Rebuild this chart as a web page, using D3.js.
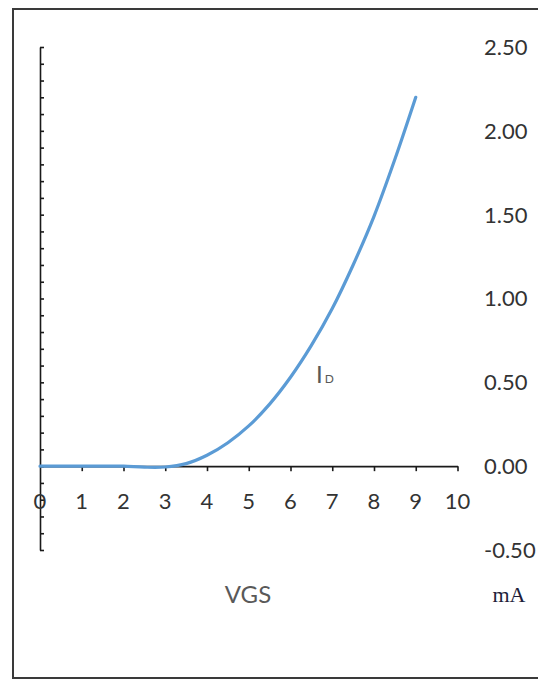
<!DOCTYPE html>
<html><head><meta charset="utf-8">
<script src="https://cdn.jsdelivr.net/npm/d3@7"></script>
<style>html,body{margin:0;padding:0;background:#fff;}svg{display:block;}</style>
</head><body>
<svg id="c" width="538" height="681"></svg>
<script>
const vgs = [0, 0.5, 1, 1.5, 2, 2.5, 3, 3.5, 4, 4.5, 5, 5.5, 6, 6.5, 7, 7.5, 8, 8.5, 9];
const idMA = [0, 0, 0, 0, 0, -0.006, -0.005, 0.015, 0.065, 0.14, 0.24, 0.37, 0.53, 0.72, 0.94, 1.2, 1.49, 1.83, 2.2];
const xTicks = [0, 1, 2, 3, 4, 5, 6, 7, 8, 9, 10];
const yLabelTicks = [-0.5, 0, 0.5, 1, 1.5, 2, 2.5];
const yMinorTicks = d3.range(-5, 26).map(i => i / 10);
const xTitle = "VGS";
const yUnit = "mA";
const seriesName = ["I", "D"];

const svg = d3.select("#c");
const x = d3.scaleLinear().domain([0, 10]).range([40, 457.5]);
const y = d3.scaleLinear().domain([-0.5, 2.5]).range([550, 47]);

// outer border
svg.append("rect").attr("x", 13).attr("y", 9).attr("width", 540).attr("height", 669)
  .attr("fill", "none").attr("stroke", "#3a3a3a").attr("stroke-width", 2);

// Y axis (ticks pointing right, no labels)
const yAx = svg.append("g").attr("transform", "translate(40,0)")
  .call(d3.axisRight(y).tickValues(yMinorTicks).tickSize(4).tickSizeOuter(0).tickFormat(""));
yAx.select(".domain").attr("stroke", "#1a1a1a").attr("stroke-width", 1.6);
yAx.selectAll(".tick line").attr("stroke", "#1a1a1a").attr("stroke-width", 1.6);

// Y labels at right side
const fmt = d3.format(".2f");
svg.append("g").selectAll("text").data(yLabelTicks).join("text")
  .attr("x", 484).attr("y", d => y(d)).attr("dy", "0.36em")
  .attr("font-family", "Lato, 'Open Sans', sans-serif").attr("font-size", 22)
  .attr("fill", "#333").text(d => fmt(d).replace("\u2212", "-"));

// X axis at y=0
const xAx = svg.append("g").attr("transform", `translate(0,${y(0)})`)
  .call(d3.axisBottom(x).tickValues(xTicks.filter(d => d > 0)).tickSize(5).tickSizeOuter(0).tickFormat(""));
xAx.select(".domain").attr("stroke", "#1a1a1a").attr("stroke-width", 1.6);
xAx.selectAll(".tick line").attr("stroke", "#1a1a1a").attr("stroke-width", 1.6);

svg.append("g").selectAll("text").data(xTicks).join("text")
  .attr("x", d => x(d)).attr("y", 509).attr("text-anchor", "middle")
  .attr("font-family", "Lato, 'Open Sans', sans-serif").attr("font-size", 22)
  .attr("fill", "#333").text(d => d);

// curve
const line = d3.line().x((d, i) => x(vgs[i])).y(d => y(d)).curve(d3.curveCatmullRom);
svg.append("path").datum(idMA).attr("d", line)
  .attr("fill", "none").attr("stroke", "#5b9bd5").attr("stroke-width", 3.2)
  .attr("stroke-linecap", "round");

// series label
const lab = svg.append("text").attr("x", 316).attr("y", 383)
  .attr("font-family", "Lato, 'Open Sans', sans-serif").attr("fill", "#595959");
lab.append("tspan").attr("font-size", 24).text(seriesName[0]);
lab.append("tspan").attr("font-size", 12).attr("dx", 2).text(seriesName[1]);

// axis titles
svg.append("text").attr("x", 248).attr("y", 603).attr("text-anchor", "middle")
  .attr("font-family", "Lato, 'Open Sans', sans-serif").attr("font-size", 24)
  .attr("fill", "#595959").text(xTitle);
svg.append("text").attr("x", 509).attr("y", 602).attr("text-anchor", "middle")
  .attr("font-family", "'Liberation Serif', serif").attr("font-size", 22)
  .attr("fill", "#1e1e3a").text(yUnit);
</script>
</body></html>
